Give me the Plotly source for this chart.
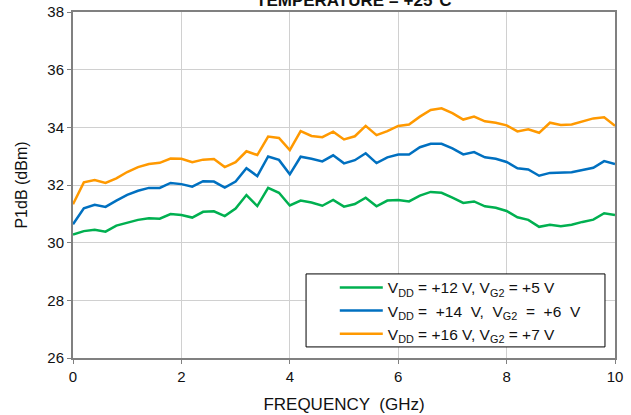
import plotly.graph_objects as go

freq = [round(i * 0.2, 1) for i in range(51)]

p1db_12v = [30.28, 30.40, 30.45, 30.38, 30.59, 30.68, 30.79, 30.85, 30.83, 30.99,
            30.96, 30.87, 31.07, 31.09, 30.92, 31.18, 31.65, 31.27, 31.90, 31.73,
            31.29, 31.46, 31.39, 31.28, 31.48, 31.25, 31.34, 31.56, 31.26, 31.46,
            31.48, 31.43, 31.63, 31.76, 31.73, 31.56, 31.38, 31.43, 31.26, 31.21,
            31.10, 30.88, 30.79, 30.55, 30.62, 30.57, 30.62, 30.72, 30.80, 31.02,
            30.96]

p1db_14v = [30.64, 31.19, 31.31, 31.24, 31.46, 31.66, 31.80, 31.90, 31.90, 32.07,
            32.03, 31.94, 32.13, 32.12, 31.91, 32.12, 32.58, 32.31, 32.99, 32.87,
            32.37, 32.98, 32.91, 32.82, 33.03, 32.75, 32.86, 33.10, 32.76, 32.96,
            33.06, 33.06, 33.31, 33.43, 33.43, 33.27, 33.06, 33.14, 32.96, 32.91,
            32.80, 32.58, 32.54, 32.32, 32.42, 32.42, 32.44, 32.52, 32.60, 32.83,
            32.73]

p1db_16v = [31.33, 32.09, 32.17, 32.07, 32.23, 32.45, 32.62, 32.73, 32.77, 32.92,
            32.91, 32.79, 32.88, 32.90, 32.62, 32.79, 33.17, 33.04, 33.68, 33.63,
            33.21, 33.87, 33.70, 33.66, 33.85, 33.58, 33.69, 34.05, 33.73, 33.87,
            34.05, 34.10, 34.37, 34.60, 34.66, 34.49, 34.27, 34.37, 34.21, 34.16,
            34.07, 33.86, 33.93, 33.81, 34.16, 34.08, 34.10, 34.20, 34.31, 34.35,
            34.05]

names = ["V<sub>DD</sub> = +12 V, V<sub>G2</sub> = +5 V",
         "V<sub>DD</sub> =  +14  V,  V<sub>G2</sub>  =  +6  V",
         "V<sub>DD</sub> = +16 V, V<sub>G2</sub> = +7 V"]
colors = ["#00b050", "#0070c0", "#ff9900"]
series = [p1db_12v, p1db_14v, p1db_16v]

x_ticks = [0, 2, 4, 6, 8, 10]
y_ticks = [26, 28, 30, 32, 34, 36, 38]

FONT = "Arial, Liberation Sans, sans-serif"

fig = go.Figure()
for name, col, ys in zip(names, colors, series):
    fig.add_trace(go.Scatter(x=freq, y=ys, mode="lines", name=name,
                             line=dict(color=col, width=2.5)))

axis_common = dict(showline=True, linecolor="#808080", linewidth=2, mirror=True,
                   showgrid=True, gridcolor="#d0d0d0", gridwidth=1,
                   ticks="outside", ticklen=4, tickcolor="#808080",
                   tickfont=dict(family=FONT, size=15, color="#111"),
                   zeroline=False, automargin=False)

fig.update_layout(
    width=631, height=415,
    margin=dict(l=73, r=16, t=12, b=57),
    paper_bgcolor="white", plot_bgcolor="white",
    font=dict(family=FONT, color="#111"),
    xaxis=dict(range=[0, 10], tickvals=x_ticks,
               title=dict(text="FREQUENCY  (GHz)", font=dict(family=FONT, size=17), standoff=14),
               **axis_common),
    yaxis=dict(range=[26, 38], tickvals=y_ticks,
               title=dict(text="P1dB (dBm)", font=dict(family=FONT, size=16), standoff=16),
               **axis_common),
    legend=dict(x=0.483, y=0.252, xanchor="left", yanchor="top",
                bgcolor="rgba(0,0,0,0)", borderwidth=0,
                font=dict(family=FONT, size=15.5, color="#111"),
                tracegroupgap=0, itemwidth=43),
    showlegend=True,
)

# legend frame
fig.add_shape(type="rect", xref="paper", yref="paper",
              x0=0.430, x1=0.9815, y0=0.032, y1=0.243,
              line=dict(color="black", width=1), fillcolor="white", layer="above")

fig.add_annotation(text="<b>TEMPERATURE = +25°C</b>", xref="paper", yref="paper",
                   x=0.517, y=1.0, xanchor="center", yanchor="bottom", yshift=0,
                   showarrow=False, font=dict(family=FONT, size=17, color="#111"))

fig.write_html("out.html", config={"displayModeBar": False},
               post_script="document.body.style.margin='0';")
